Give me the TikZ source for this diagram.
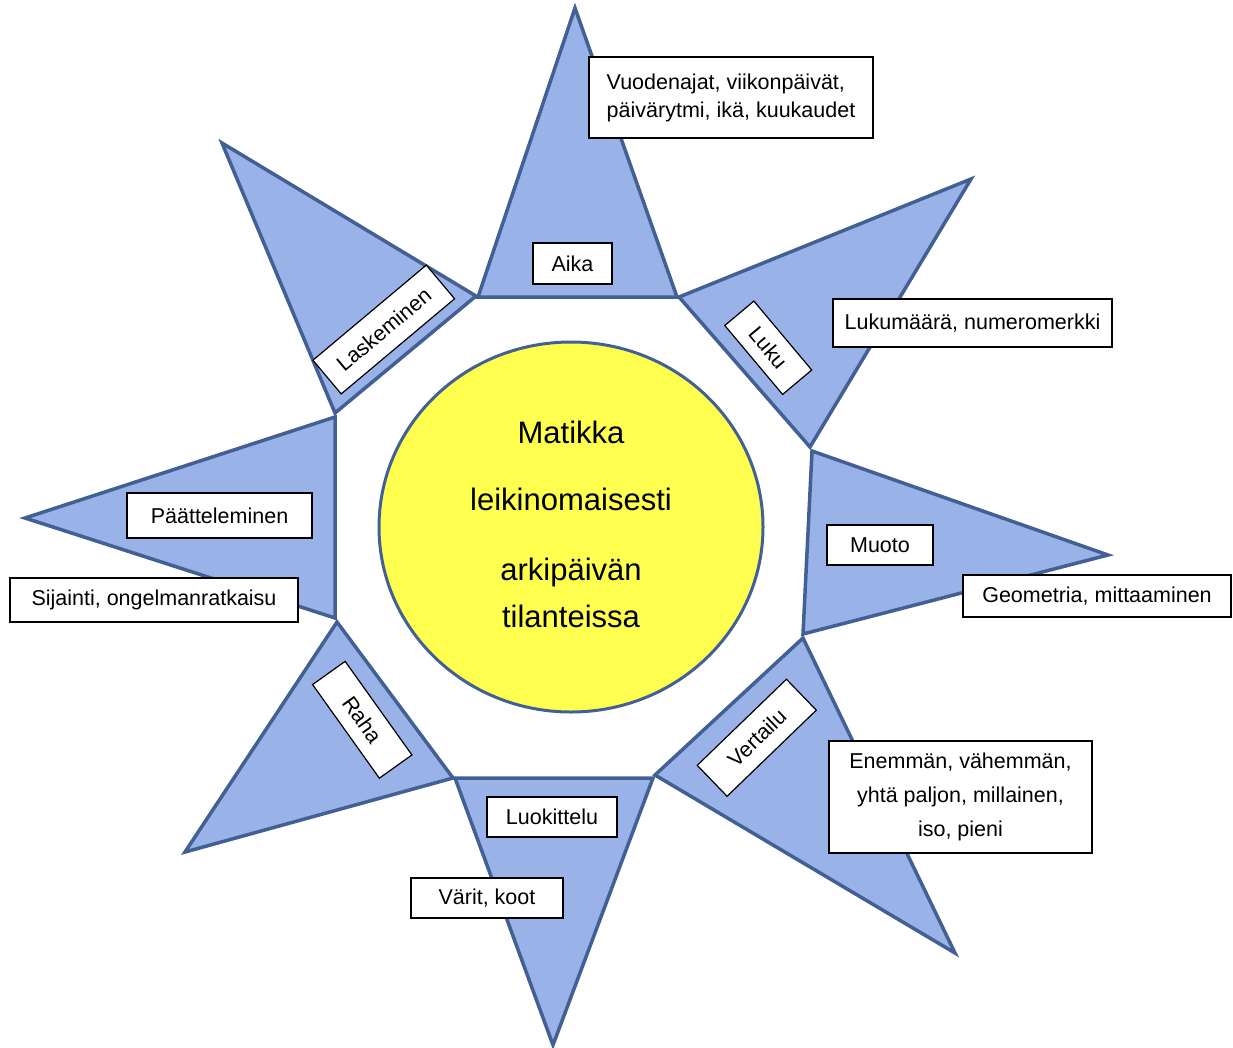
\documentclass[tikz,border=0pt]{standalone}
\usepackage{fontspec}
\setmainfont{Liberation Sans}
\definecolor{spikefill}{RGB}{153,178,232}
\definecolor{spikeline}{RGB}{66,96,148}
\definecolor{sunfill}{RGB}{255,255,80}
\tikzset{
  spike/.style={fill=spikefill, draw=spikeline, line width=3.5pt, line join=miter},
  sun/.style={fill=sunfill, draw=spikeline, line width=3pt},
  labelbox/.style={draw=black, fill=white, line width=1.2pt, inner sep=2pt,
    font=\fontsize{21.5}{28}\selectfont},
  titletext/.style={align=center, font=\fontsize{31}{47}\selectfont}
}
\begin{document}
\begin{tikzpicture}[x=1pt,y=-1pt]
\useasboundingbox (0,0) rectangle (1233,1047);
% spikes of the star
\draw[spike] (478,297) -- (575,8) -- (677,297) -- cycle;
\draw[spike] (679,297) -- (971,179) -- (810,447) -- cycle;
\draw[spike] (812,451) -- (1108,555) -- (803,634) -- cycle;
\draw[spike] (803,638) -- (955,953) -- (655,775) -- cycle;
\draw[spike] (653,778) -- (553,1045) -- (455,778) -- cycle;
\draw[spike] (453,778) -- (185,852) -- (337,622) -- cycle;
\draw[spike] (335,618) -- (25,518) -- (335,417) -- cycle;
\draw[spike] (335,413) -- (222,143) -- (476,296) -- cycle;
% centre
\draw[sun] (571,527) ellipse [x radius=192pt, y radius=185pt];
\node[titletext] (title) at (571,524) {Matikka\\[20pt]leikinomaisesti\\[23pt]arkip\"aiv\"an\\tilanteissa};
% labels
\node[labelbox, minimum width=284pt, minimum height=81pt, align=left] (vuo) at (731,97.5)
  {Vuodenajat, viikonpäivät,\\päivärytmi, ikä, kuukaudet};
\node[labelbox, minimum width=79pt, minimum height=41pt] (aika) at (572.5,263.5) {Aika};
\node[labelbox, minimum width=148pt, minimum height=44pt, rotate=40] (lask) at (383.75,329.5) {Laskeminen};
\node[labelbox, minimum width=90pt, minimum height=38pt, rotate=-50] (luku) at (768.25,347.75) {Luku};
\node[labelbox, minimum width=279pt, minimum height=48pt] (lukum) at (972.5,323) {Lukumäärä, numeromerkki};
\node[labelbox, minimum width=185pt, minimum height=45pt] (paat) at (219.5,515.5) {Päätteleminen};
\node[labelbox, minimum width=288pt, minimum height=44pt] (sij) at (154,600) {Sijainti, ongelmanratkaisu};
\node[labelbox, minimum width=106pt, minimum height=40pt] (muoto) at (880,545) {Muoto};
\node[labelbox, minimum width=268pt, minimum height=42pt] (geom) at (1097,596) {Geometria, mittaaminen};
\node[labelbox, minimum width=115pt, minimum height=40pt, rotate=-54.5] (raha) at (362.25,719.75) {Raha};
\node[labelbox, minimum width=124pt, minimum height=43pt, rotate=44] (vert) at (756.75,737.75) {Vertailu};
\node[labelbox, minimum width=130pt, minimum height=40pt] (luok) at (552,817) {Luokittelu};
\node[labelbox, minimum width=152pt, minimum height=40pt] (varit) at (487,898) {Värit, koot};
\node[labelbox, minimum width=263pt, minimum height=112pt, align=center,
  font=\fontsize{21.5}{34}\selectfont] (enem) at (960.5,797)
  {Enemmän, vähemmän,\\yhtä paljon, millainen,\\iso, pieni};
\end{tikzpicture}
\end{document}
